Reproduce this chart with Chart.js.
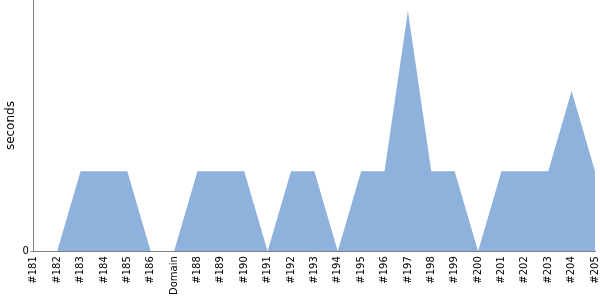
<!DOCTYPE html>
<html><head><meta charset="utf-8">
<script src="https://cdn.jsdelivr.net/npm/chart.js@4/dist/chart.umd.min.js"></script>
<style>html,body{margin:0;padding:0;background:#fff}#w{width:600px;height:300px}</style>
</head><body><div id="w"><canvas id="c"></canvas></div>
<script>
const categories = ["#181","#182","#183","#184","#185","#186","Domain","#188","#189","#190","#191","#192","#193","#194","#195","#196","#197","#198","#199","#200","#201","#202","#203","#204","#205"];
const seconds = [0,0,1,1,1,0,0,1,1,1,0,1,1,0,1,1,3,1,1,0,1,1,1,2,1];
const yTickLabels = ["0"];
Chart.defaults.font.family = "DejaVu Sans";
Chart.defaults.font.size = 10;
Chart.defaults.color = "#000";
new Chart(document.getElementById('c'), {
  type: 'line',
  data: { labels: categories, datasets: [{ data: seconds, fill: 'origin', backgroundColor: '#8fb2dc', borderWidth: 0, pointRadius: 0, tension: 0 }] },
  options: {
    responsive: true, maintainAspectRatio: false, animation: false,
    layout: { padding: { top: 0, right: 5, left: 0, bottom: 0 } },
    plugins: { legend: { display: false }, tooltip: { enabled: false } },
    scales: {
      x: { offset: false,
        afterFit: (s) => { s.paddingRight = 0; s.paddingLeft = 0; },
        grid: { display: true, drawOnChartArea: false, drawTicks: false, color: '#808080' },
        border: { color: '#808080', width: 1 },
        ticks: { autoSkip: false, maxRotation: 90, minRotation: 90, padding: 5, font: { size: 10 } } },
      y: { min: 0, max: 3.1375,
        afterFit: (s) => { s.paddingTop = 0; s.paddingBottom = 0; },
        grid: { display: true, drawOnChartArea: false, drawTicks: true, tickLength: 3, color: '#808080' },
        border: { color: '#808080', width: 1 },
        title: { display: true, text: 'seconds', font: { size: 12 }, padding: { top: 4, bottom: 2 } },
        afterBuildTicks: (s) => { s.ticks = yTickLabels.map(t => ({ value: Number(t) })); },
        ticks: { padding: 2, font: { size: 10 }, callback: (v) => String(v) } }
    }
  }
});
</script></body></html>
